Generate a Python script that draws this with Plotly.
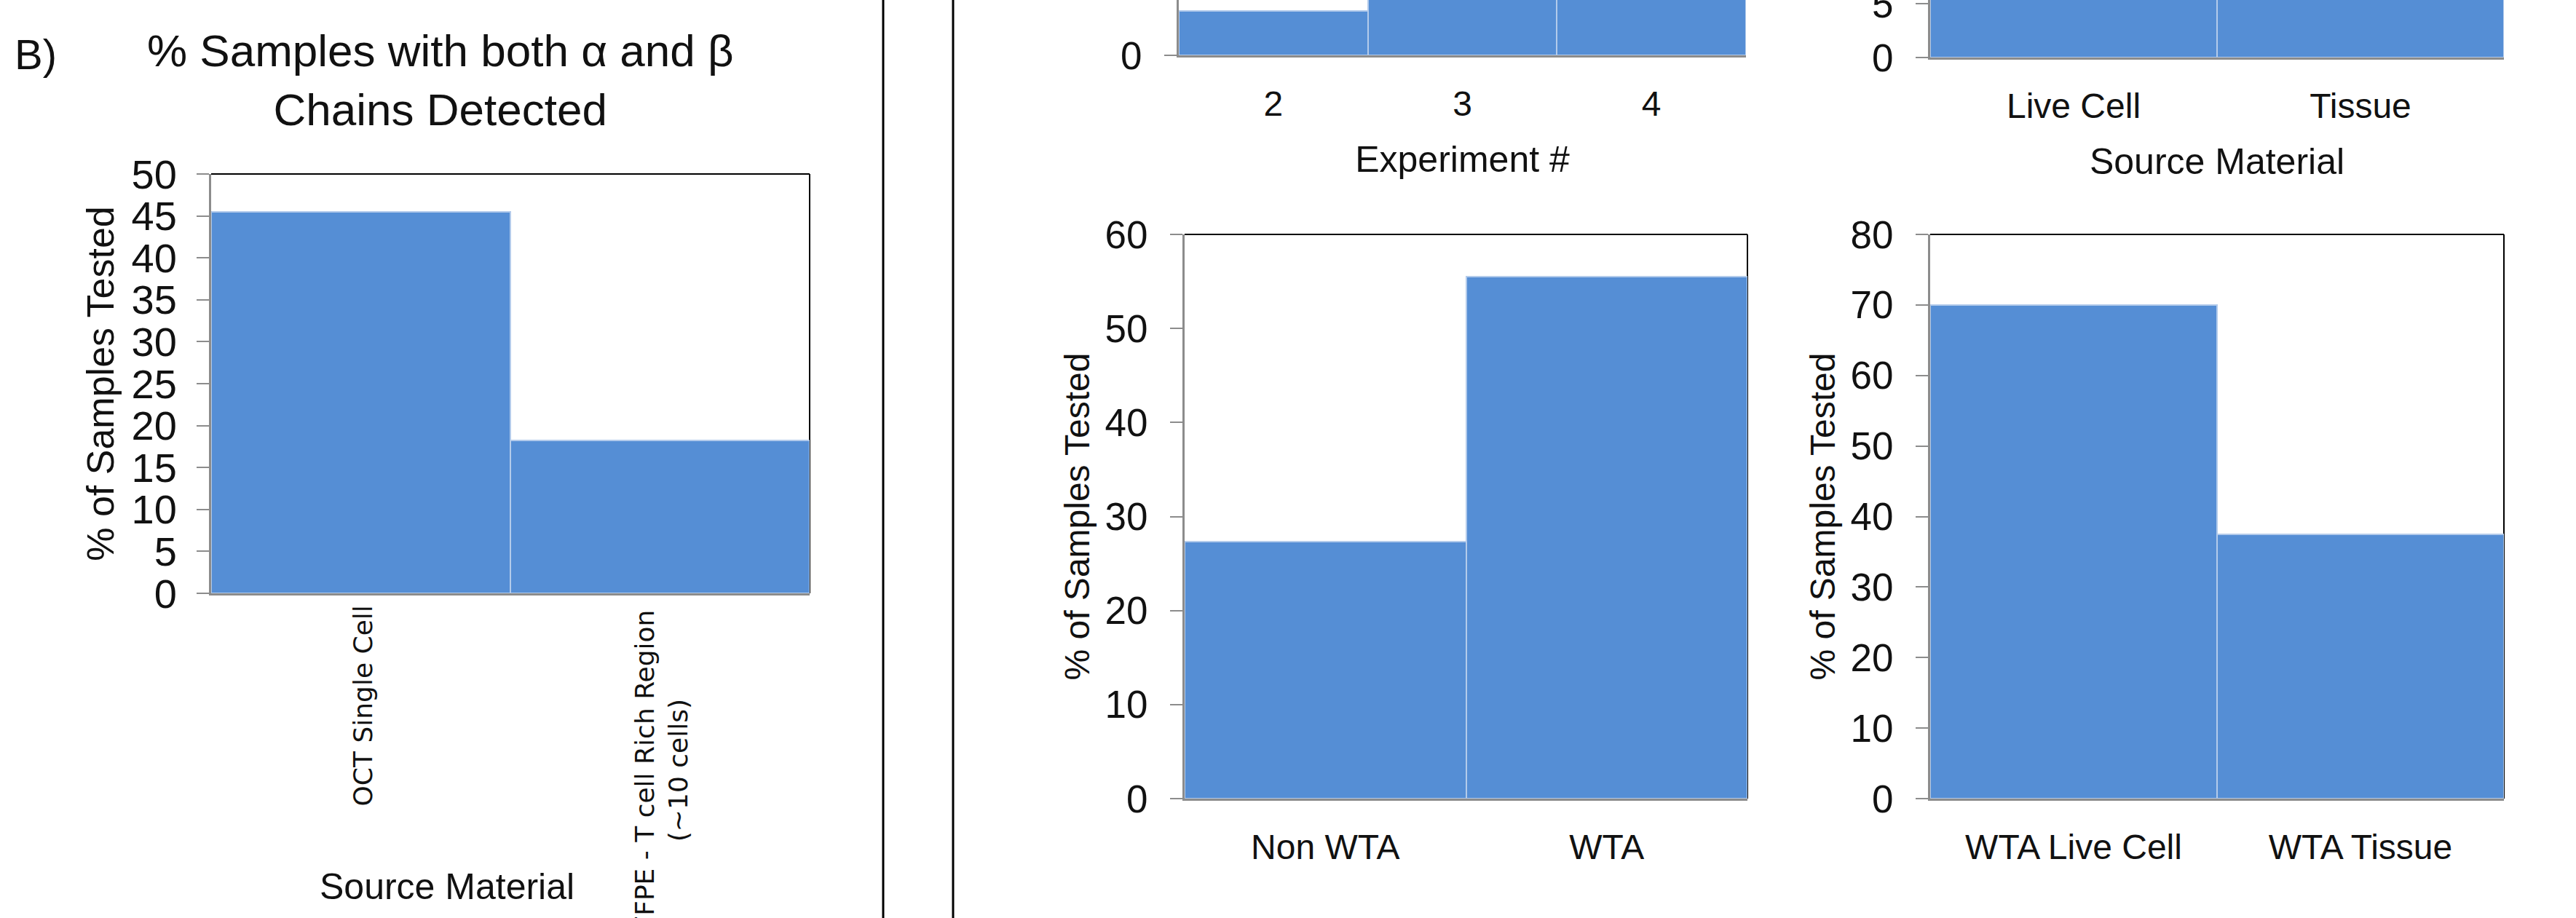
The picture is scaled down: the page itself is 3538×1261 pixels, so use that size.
import plotly.graph_objects as go

# ---------------- data ----------------
b_categories = ["OCT Single Cell", "FFPE - T cell Rich Region"]
b_labels = ["OCT Single Cell", "FFPE - T cell Rich Region<br>(~10 cells)"]
b_values = [45.5, 18.2]

exp_categories = ["2", "3", "4"]
exp_values = [4.7, 30, 40]

src_categories = ["Live Cell", "Tissue"]
src_values = [40, 35]

wta_categories = ["Non WTA", "WTA"]
wta_values = [27.3, 55.5]

wta_src_categories = ["WTA Live Cell", "WTA Tissue"]
wta_src_values = [70, 37.5]

# ---------------- styling ----------------
W, H = 3538, 1261
FONT = "Liberation Sans, Arial, Helvetica, sans-serif"
BAR = "#558ed5"
BAR_EDGE = "#b3cbeb"
AXIS = "#8c8c8c"
TXT = "#111111"


def px(x):
    return x / W


def py(y):
    return 1 - y / H


fig = go.Figure()

traces = [
    (b_categories, b_values, "x", "y"),
    (exp_categories, exp_values, "x2", "y2"),
    (src_categories, src_values, "x3", "y3"),
    (wta_categories, wta_values, "x4", "y4"),
    (wta_src_categories, wta_src_values, "x5", "y5"),
]
for cats, vals, xa, ya in traces:
    fig.add_trace(go.Bar(
        x=cats, y=vals, xaxis=xa, yaxis=ya,
        marker=dict(color=BAR, line=dict(color=BAR_EDGE, width=2)),
        showlegend=False, hoverinfo="x+y",
    ))


def xax(x0, x1, y_anchor, show_labels=True, title=None, standoff=None):
    d = dict(
        domain=[px(x0), px(x1)], anchor=y_anchor, type="category",
        showline=True, linecolor=AXIS, linewidth=3, ticks="",
        showgrid=False, zeroline=False, automargin=False,
        showticklabels=show_labels,
        tickfont=dict(family=FONT, size=48, color=TXT),
        ticklabelstandoff=22, fixedrange=True,
    )
    if title:
        d["title"] = dict(text=title, font=dict(family=FONT, size=50, color=TXT),
                          standoff=standoff)
    return d


def yax(y0, y1, x_anchor, rng, dtick, title=None, standoff=None,
        tick_size=53, title_size=48, lab_standoff=20):
    d = dict(
        domain=[py(y1), py(y0)], anchor=x_anchor, range=rng, dtick=dtick,
        tick0=0, showline=True, linecolor=AXIS, linewidth=3,
        ticks="outside", ticklen=17, tickwidth=2, tickcolor=AXIS,
        showgrid=False, zeroline=False, automargin=False,
        tickfont=dict(family=FONT, size=tick_size, color=TXT),
        ticklabelstandoff=lab_standoff, ticklabeloverflow="allow",
        fixedrange=True,
    )
    if title:
        d["title"] = dict(text=title, font=dict(family=FONT, size=title_size, color=TXT),
                          standoff=standoff)
    return d


fig.update_layout(
    width=W, height=H, autosize=False,
    margin=dict(l=0, r=0, t=0, b=0, pad=0),
    paper_bgcolor="white", plot_bgcolor="white",
    bargap=0,
    font=dict(family=FONT, color=TXT),
    # panel B
    xaxis=xax(290, 1112, "y", show_labels=False),
    yaxis=yax(239, 815, "x", [0, 50], 5, "% of Samples Tested", 8,
              tick_size=56, title_size=52, lab_standoff=16),
    # top-left partial panel
    xaxis2=xax(1619, 2398, "y2", title="Experiment #", standoff=34),
    yaxis2=yax(0, 76, "x2", [0, 5.9], 10),
    # top-right partial panel
    xaxis3=xax(2651, 3439, "y3", title="Source Material", standoff=34),
    yaxis3=yax(0, 79, "x3", [0, 5.34], 5),
    # bottom-left
    xaxis4=xax(1627, 2400, "y4"),
    yaxis4=yax(322, 1097, "x4", [0, 60], 10, "% of Samples Tested", 6),
    # bottom-right
    xaxis5=xax(2651, 3439, "y5"),
    yaxis5=yax(322, 1097, "x5", [0, 80], 10, "% of Samples Tested", 6),
)

shapes = []
# black top/right frame on full panels
for xa, ya in [("x", "y"), ("x4", "y4"), ("x5", "y5")]:
    shapes.append(dict(type="line", xref=f"{xa} domain", yref=f"{ya} domain",
                       x0=0, x1=1, y0=1, y1=1, line=dict(color="black", width=2), layer="below"))
    shapes.append(dict(type="line", xref=f"{xa} domain", yref=f"{ya} domain",
                       x0=1, x1=1, y0=0, y1=1, line=dict(color="black", width=2), layer="below"))
# vertical separators
for xs in [1213, 1309]:
    shapes.append(dict(type="line", xref="paper", yref="paper", x0=px(xs), x1=px(xs),
                       y0=0, y1=1, line=dict(color="black", width=3)))
fig.update_layout(shapes=shapes)

annotations = [
    dict(text="B)", x=px(18), y=py(74), xref="paper", yref="paper",
         xanchor="left", yanchor="middle", showarrow=False,
         font=dict(family=FONT, size=58, color=TXT)),
    dict(text="% Samples with both α and β<br>Chains Detected", x=px(605), y=py(110),
         xref="paper", yref="paper", xanchor="center", yanchor="middle",
         showarrow=False, align="center",
         font=dict(family=FONT, size=62, color=TXT)),
    dict(text="Source Material", x=px(614), y=py(1218), xref="paper", yref="paper",
         xanchor="center", yanchor="middle", showarrow=False,
         font=dict(family=FONT, size=50, color=TXT)),
]
label_centers = [970, 1058]
label_shifts = [2, 2]
for cat, lab, yc, xs in zip(b_categories, b_labels, label_centers, label_shifts):
    annotations.append(dict(
        text=lab, x=cat, xref="x", y=py(yc), yref="paper",
        xanchor="center", yanchor="middle", textangle=-90, showarrow=False,
        align="center", xshift=xs,
        font=dict(family="DejaVu Sans, " + FONT, size=36, color=TXT),
    ))
fig.update_layout(annotations=annotations)

fig.write_html(
    "out.html",
    config={"displayModeBar": False},
    post_script="document.body.style.margin='0';document.body.style.padding='0';"
                "document.body.style.overflow='hidden';",
)
